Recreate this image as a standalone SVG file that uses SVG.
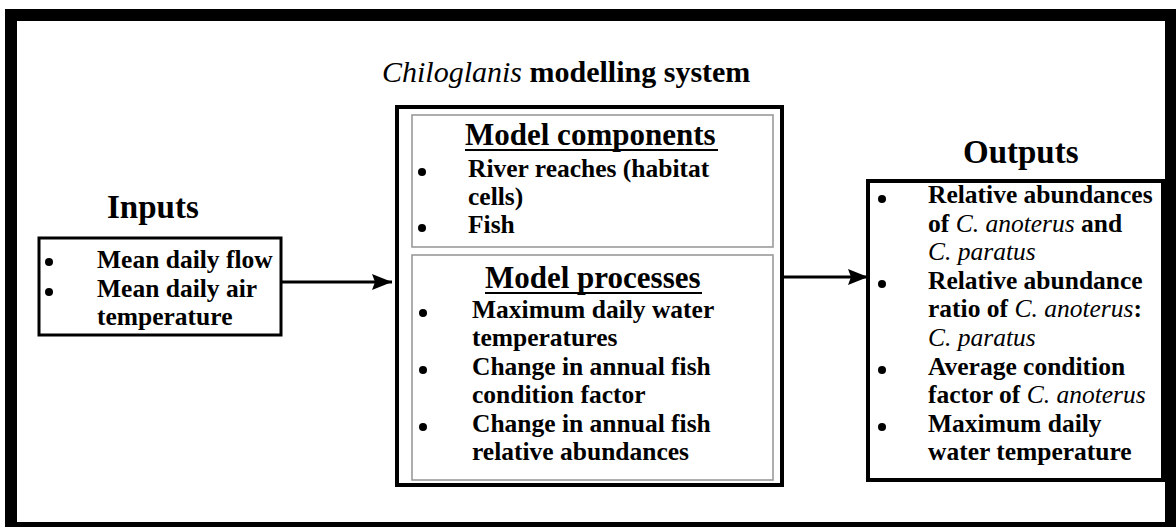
<svg xmlns="http://www.w3.org/2000/svg" width="1176" height="527" viewBox="0 0 1176 527">
<defs>
<style>
text{font-family:"Liberation Serif","Times New Roman",serif;font-weight:bold;fill:#000}
.it{font-style:italic;font-weight:normal}
.item{font-size:25.5px}
.head{font-size:31px}
.big{font-size:33px}
.blk{fill:none;stroke:#000}
.gry{fill:none;stroke:#9a9a9a;stroke-width:1.6}
.conn{stroke:#000;stroke-width:3;fill:none}
circle{fill:#000}
</style>
<marker id="ah" markerWidth="20" markerHeight="16" refX="20" refY="8" orient="auto" markerUnits="userSpaceOnUse">
<path d="M0,0 L20,8 L0,16 L3,8 Z" fill="#000"/>
</marker>
</defs>
<rect width="1176" height="527" fill="#fff"/>
<rect x="11" y="15" width="1160" height="513" fill="none" stroke="#000" stroke-width="12"/>
<text x="382" y="82" style="font-size:30px"><tspan class="it">Chiloglanis</tspan> modelling system</text>

<g id="inputs">
<text x="107" y="218" class="big">Inputs</text>
<rect x="39" y="238" width="242" height="97" class="blk" stroke-width="3"/>
<circle cx="49" cy="262" r="4"/>
<circle cx="49" cy="292" r="4"/>
<text class="item" x="97" y="268">Mean daily flow</text>
<text class="item" x="97" y="297">Mean daily air</text>
<text class="item" x="97" y="325">temperature</text>
</g>

<g id="system">
<rect x="397" y="107" width="385" height="378" class="blk" stroke-width="4"/>
</g>

<g id="components">
<rect x="412" y="115" width="361" height="132" class="gry"/>
<text class="head" x="465" y="145">Model components</text>
<line x1="465" y1="150" x2="718" y2="150" stroke="#000" stroke-width="2"/>
<circle cx="422" cy="172" r="4"/>
<circle cx="422" cy="228" r="4"/>
<text class="item" x="468" y="177">River reaches (habitat</text>
<text class="item" x="468" y="205">cells)</text>
<text class="item" x="468" y="233">Fish</text>
</g>

<g id="processes">
<rect x="412" y="255" width="361" height="225" class="gry"/>
<text class="head" x="485" y="288">Model processes</text>
<line x1="485" y1="293" x2="702" y2="293" stroke="#000" stroke-width="2"/>
<circle cx="423" cy="313" r="4"/>
<circle cx="423" cy="370" r="4"/>
<circle cx="423" cy="427" r="4"/>
<text class="item" x="472" y="318">Maximum daily water</text>
<text class="item" x="472" y="346">temperatures</text>
<text class="item" x="472" y="375">Change in annual fish</text>
<text class="item" x="472" y="403">condition factor</text>
<text class="item" x="472" y="432">Change in annual fish</text>
<text class="item" x="472" y="460">relative abundances</text>
</g>

<g id="outputs">
<text x="963" y="163" class="big">Outputs</text>
<rect x="868" y="181" width="295" height="299" class="blk" stroke-width="4"/>
<circle cx="882" cy="199" r="4"/>
<circle cx="882" cy="284" r="4"/>
<circle cx="882" cy="370" r="4"/>
<circle cx="882" cy="427" r="4"/>
<text class="item" x="928" y="203">Relative abundances</text>
<text class="item" x="928" y="232">of <tspan class="it">C. anoterus</tspan> and</text>
<text class="item" x="928" y="260"><tspan class="it">C. paratus</tspan></text>
<text class="item" x="928" y="289">Relative abundance</text>
<text class="item" x="928" y="317">ratio of <tspan class="it">C. anoterus</tspan>:</text>
<text class="item" x="928" y="346"><tspan class="it">C. paratus</tspan></text>
<text class="item" x="928" y="375">Average condition</text>
<text class="item" x="928" y="403">factor of <tspan class="it">C. anoterus</tspan></text>
<text class="item" x="928" y="432">Maximum daily</text>
<text class="item" x="928" y="460">water temperature</text>
</g>

<g id="connectors">
<line x1="281" y1="282" x2="392" y2="282" class="conn" marker-end="url(#ah)"/>
<line x1="784" y1="277" x2="868" y2="277" class="conn" marker-end="url(#ah)"/>
</g>
</svg>
